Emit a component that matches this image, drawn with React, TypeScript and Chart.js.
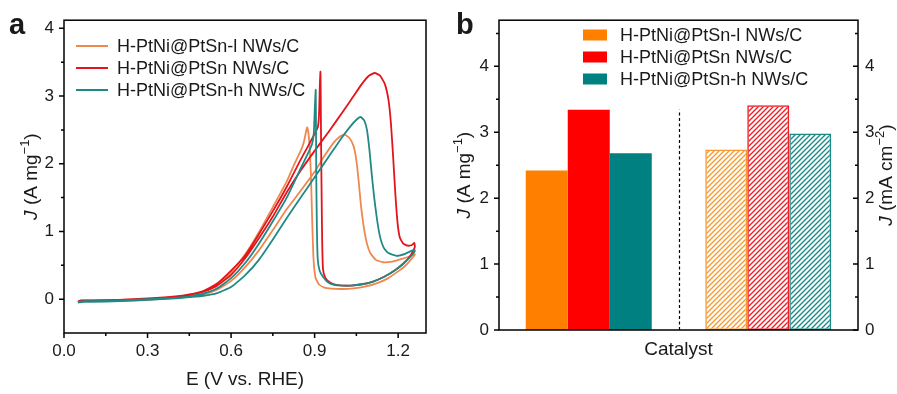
import React, { useEffect, useRef } from 'react';
import { Chart, registerables } from 'chart.js';

Chart.register(...registerables);

const FONT = "'Liberation Sans', Arial, Helvetica, sans-serif";
const INK = '#1a1a1a';

type Pt = [number, number];

// ---------- Panel a : CV curves (E in V vs. RHE, J in A mg-1) ----------
const seriesNames = ['H-PtNi@PtSn-l NWs/C', 'H-PtNi@PtSn NWs/C', 'H-PtNi@PtSn-h NWs/C'];
const lineColors = ['#F0874E', '#E3141C', '#1F8A85'];

const cvLowForward: Pt[] = [
  [0.05, -0.05], [0.06, -0.03], [0.08, -0.02], [0.1, -0.03], [0.2, -0.02], [0.3, -0.01], [0.4, 0.02],
  [0.45, 0.04], [0.5, 0.07], [0.55, 0.14], [0.6, 0.27], [0.65, 0.47], [0.7, 0.72], [0.75, 1.02],
  [0.8, 1.33], [0.85, 1.6], [0.9, 1.88], [0.936, 2.12], [0.97, 2.32], [0.99, 2.4], [1.008, 2.43],
  [1.025, 2.38], [1.04, 2.26], [1.05, 2.05], [1.058, 1.75], [1.066, 1.4], [1.076, 1.08], [1.088, 0.82],
  [1.1, 0.68], [1.12, 0.58], [1.146, 0.545], [1.18, 0.555], [1.21, 0.59], [1.24, 0.63], [1.258, 0.67],
];
const cvLowBackward: Pt[] = [
  [1.26, 0.66], [1.245, 0.58], [1.225, 0.49], [1.2, 0.41], [1.16, 0.3], [1.12, 0.23], [1.08, 0.185],
  [1.04, 0.16], [1.0, 0.15], [0.96, 0.155], [0.935, 0.17], [0.915, 0.22], [0.903, 0.32], [0.896, 0.6],
  [0.891, 1.2], [0.887, 1.8], [0.883, 2.2], [0.878, 2.45], [0.873, 2.54], [0.868, 2.45], [0.862, 2.33],
  [0.853, 2.22], [0.83, 2.02], [0.8, 1.74], [0.75, 1.36], [0.7, 0.99], [0.65, 0.66], [0.6, 0.4],
  [0.55, 0.21], [0.5, 0.11], [0.45, 0.06], [0.4, 0.03], [0.3, 0.0], [0.2, -0.01], [0.1, -0.02],
  [0.07, -0.02], [0.05, -0.03],
];

const cvMidForward: Pt[] = [
  [0.05, -0.04], [0.07, -0.02], [0.1, -0.03], [0.2, -0.02], [0.3, 0.0], [0.4, 0.03], [0.45, 0.06],
  [0.5, 0.11], [0.55, 0.2], [0.6, 0.36], [0.65, 0.6], [0.7, 0.9], [0.75, 1.22], [0.8, 1.58],
  [0.85, 1.9], [0.9, 2.19], [0.95, 2.47], [1.0, 2.76], [1.04, 3.0], [1.07, 3.18], [1.095, 3.3],
  [1.116, 3.34], [1.135, 3.3], [1.152, 3.18], [1.165, 2.95], [1.174, 2.6], [1.182, 2.1], [1.19, 1.55],
  [1.198, 1.12], [1.206, 0.91], [1.218, 0.82], [1.235, 0.79], [1.25, 0.8], [1.258, 0.83],
];
const cvMidBackward: Pt[] = [
  [1.26, 0.77], [1.245, 0.65], [1.22, 0.53], [1.19, 0.43], [1.15, 0.33], [1.11, 0.26], [1.07, 0.22],
  [1.03, 0.2], [1.0, 0.2], [0.97, 0.22], [0.95, 0.26], [0.937, 0.33], [0.93, 0.45], [0.927, 0.9],
  [0.925, 1.6], [0.923, 2.4], [0.922, 3.0], [0.921, 3.36], [0.919, 3.2], [0.916, 2.75], [0.912, 2.55],
  [0.9, 2.44], [0.85, 2.06], [0.8, 1.66], [0.75, 1.3], [0.7, 0.96], [0.65, 0.64], [0.6, 0.42],
  [0.55, 0.23], [0.5, 0.12], [0.45, 0.07], [0.4, 0.04], [0.3, 0.01], [0.2, -0.01], [0.1, -0.02],
  [0.06, -0.02], [0.05, -0.04],
];

const cvHighForward: Pt[] = [
  [0.05, -0.05], [0.07, -0.04], [0.1, -0.04], [0.2, -0.03], [0.3, -0.01], [0.4, 0.01], [0.45, 0.03],
  [0.5, 0.05], [0.55, 0.09], [0.6, 0.18], [0.65, 0.35], [0.7, 0.58], [0.75, 0.88], [0.8, 1.2],
  [0.85, 1.5], [0.9, 1.8], [0.95, 2.1], [1.0, 2.4], [1.03, 2.56], [1.05, 2.65], [1.065, 2.69],
  [1.078, 2.64], [1.088, 2.5], [1.097, 2.2], [1.105, 1.85], [1.114, 1.5], [1.124, 1.18], [1.135, 0.92],
  [1.148, 0.76], [1.165, 0.68], [1.194, 0.64], [1.225, 0.67], [1.258, 0.73],
];
const cvHighBackward: Pt[] = [
  [1.26, 0.71], [1.245, 0.63], [1.22, 0.53], [1.19, 0.43], [1.15, 0.33], [1.11, 0.26], [1.07, 0.22],
  [1.03, 0.2], [1.0, 0.2], [0.97, 0.21], [0.948, 0.25], [0.932, 0.32], [0.918, 0.42], [0.911, 0.6],
  [0.908, 1.1], [0.906, 1.8], [0.905, 2.5], [0.904, 3.09], [0.901, 2.85], [0.897, 2.45], [0.89, 2.28],
  [0.87, 2.1], [0.85, 1.93], [0.8, 1.5], [0.75, 1.15], [0.7, 0.82], [0.65, 0.53], [0.6, 0.31],
  [0.55, 0.16], [0.5, 0.08], [0.45, 0.04], [0.4, 0.02], [0.3, 0.0], [0.2, -0.02], [0.1, -0.03],
  [0.07, -0.03], [0.05, -0.05],
];

const cvLoops: Pt[][] = [
  [...cvLowForward, ...cvLowBackward],
  [...cvMidForward, ...cvMidBackward],
  [...cvHighForward, ...cvHighBackward],
];

const xTicksA = [0, 0.3, 0.6, 0.9, 1.2];
const xMinorA = [0.15, 0.45, 0.75, 1.05];
const yTicksA = [0, 1, 2, 3, 4];
const yMinorA = [0.5, 1.5, 2.5, 3.5];

// ---------- Panel b : activities ----------
const barColors = ['#FF8000', '#FF0000', '#008080'];
const hatchColors = ['#F59A30', '#EE1C24', '#178A86'];
const barCategories = ['Mass activity', 'Specific activity'];
const massActivity = [2.42, 3.34, 2.68]; // A mg-1 (left axis)
const specificActivity = [2.74, 3.41, 2.98]; // mA cm-2 (right axis)
const yTicksB = [0, 1, 2, 3, 4];
const yMinorB = [0.5, 1.5, 2.5, 3.5, 4.5];

// ---------- helpers ----------
type Part = { t: string; italic?: boolean; sup?: boolean };

function drawRich(ctx: CanvasRenderingContext2D, parts: Part[], cx: number, cy: number, size: number, rotate: boolean) {
  ctx.save();
  ctx.translate(cx, cy);
  if (rotate) ctx.rotate(-Math.PI / 2);
  const fontFor = (p: Part) => `${p.italic ? 'italic ' : ''}${p.sup ? Math.round(size * 0.66) : size}px ${FONT}`;
  let total = 0;
  for (const p of parts) {
    ctx.font = fontFor(p);
    total += ctx.measureText(p.t).width;
  }
  let x = -total / 2;
  ctx.textBaseline = 'middle';
  ctx.textAlign = 'left';
  ctx.fillStyle = INK;
  for (const p of parts) {
    ctx.font = fontFor(p);
    ctx.fillText(p.t, x, p.sup ? -size * 0.36 : 0);
    x += ctx.measureText(p.t).width;
  }
  ctx.restore();
}

function marks(ctx: CanvasRenderingContext2D, scale: any, values: number[], len: number, side: 'bottom' | 'left' | 'rightIn', area: any) {
  ctx.beginPath();
  for (const v of values) {
    const p = scale.getPixelForValue(v);
    if (side === 'bottom') {
      ctx.moveTo(p, area.bottom);
      ctx.lineTo(p, area.bottom + len);
    } else if (side === 'left') {
      ctx.moveTo(area.left, p);
      ctx.lineTo(area.left - len, p);
    } else {
      ctx.moveTo(area.right, p);
      ctx.lineTo(area.right - len, p);
    }
  }
  ctx.stroke();
}

function makeHatch(color: string): CanvasPattern {
  const s = 5;
  const c = document.createElement('canvas');
  c.width = s;
  c.height = s;
  const g = c.getContext('2d')!;
  g.strokeStyle = color;
  g.lineWidth = 1.35;
  g.beginPath();
  g.moveTo(0, s);
  g.lineTo(s, 0);
  g.moveTo(-1, 1);
  g.lineTo(1, -1);
  g.moveTo(s - 1, s + 1);
  g.lineTo(s + 1, s - 1);
  g.stroke();
  return g.createPattern(c, 'repeat')!;
}

const tickFont = { family: FONT, size: 17 };
const TITLE = 19;
const LEG = 18;

const decorA = {
  id: 'decorA',
  afterDraw(chart: any) {
    const { ctx, chartArea: area, scales } = chart;
    ctx.save();
    ctx.strokeStyle = '#000';
    ctx.lineWidth = 1.5;
    ctx.strokeRect(area.left, area.top, area.right - area.left, area.bottom - area.top);
    marks(ctx, scales.x, xTicksA, 5, 'bottom', area);
    marks(ctx, scales.x, xMinorA, 3, 'bottom', area);
    marks(ctx, scales.y, yTicksA, 5, 'left', area);
    marks(ctx, scales.y, yMinorA, 3, 'left', area);
    // legend
    ctx.lineWidth = 2;
    ctx.font = `${LEG}px ${FONT}`;
    ctx.textBaseline = 'middle';
    ctx.textAlign = 'left';
    seriesNames.forEach((name, i) => {
      const y = 46 + i * 22;
      ctx.strokeStyle = lineColors[i];
      ctx.beginPath();
      ctx.moveTo(76, y);
      ctx.lineTo(108, y);
      ctx.stroke();
      ctx.fillStyle = INK;
      ctx.fillText(name, 117, y + 1);
    });
    // titles
    drawRich(ctx, [{ t: 'E (V vs. RHE)' }], (area.left + area.right) / 2, 380, TITLE, false);
    drawRich(ctx, [{ t: 'J', italic: true }, { t: ' (A mg' }, { t: '−1', sup: true }, { t: ')' }], 32, (area.top + area.bottom) / 2, TITLE, true);
    ctx.fillStyle = INK;
    ctx.font = `bold 29px ${FONT}`;
    ctx.textBaseline = 'alphabetic';
    ctx.fillText('a', 9, 34);
    ctx.restore();
  },
};

const decorB = {
  id: 'decorB',
  afterDatasetsDraw(chart: any) {
    const { ctx, chartArea: area, scales } = chart;
    ctx.save();
    const xDiv = scales.x.getPixelForValue(0.5);
    const yTop = scales.y.getPixelForValue(Math.max(...massActivity));
    ctx.strokeStyle = '#000';
    ctx.lineWidth = 1.2;
    ctx.setLineDash([3, 2.5]);
    ctx.beginPath();
    ctx.moveTo(Math.round(xDiv) + 0.5, area.bottom);
    ctx.lineTo(Math.round(xDiv) + 0.5, yTop);
    ctx.stroke();
    ctx.restore();
  },
  afterDraw(chart: any) {
    const { ctx, chartArea: area, scales } = chart;
    ctx.save();
    ctx.strokeStyle = '#000';
    ctx.lineWidth = 1.5;
    ctx.strokeRect(area.left, area.top, area.right - area.left, area.bottom - area.top);
    marks(ctx, scales.y, yTicksB, 5, 'left', area);
    marks(ctx, scales.y, yMinorB, 3, 'left', area);
    marks(ctx, scales.y2, yTicksB, 5, 'rightIn', area);
    marks(ctx, scales.y2, yMinorB, 3, 'rightIn', area);
    // legend
    ctx.font = `${LEG}px ${FONT}`;
    ctx.textBaseline = 'middle';
    ctx.textAlign = 'left';
    seriesNames.forEach((name, i) => {
      const y = 35 + i * 22;
      ctx.fillStyle = barColors[i];
      ctx.fillRect(133, y - 5.5, 24, 11);
      ctx.fillStyle = INK;
      ctx.fillText(name, 170, y + 1);
    });
    drawRich(ctx, [{ t: 'Catalyst' }], (area.left + area.right) / 2, 350, TITLE, false);
    drawRich(ctx, [{ t: 'J', italic: true }, { t: ' (A mg' }, { t: '−1', sup: true }, { t: ')' }], 15, (area.top + area.bottom) / 2, TITLE, true);
    drawRich(ctx, [{ t: 'J', italic: true }, { t: ' (mA cm' }, { t: '−2', sup: true }, { t: ')' }], 437, (area.top + area.bottom) / 2, TITLE, true);
    ctx.fillStyle = INK;
    ctx.font = `bold 29px ${FONT}`;
    ctx.textBaseline = 'alphabetic';
    ctx.fillText('b', 6, 34);
    ctx.restore();
  },
};

export default function App() {
  const refA = useRef<HTMLCanvasElement>(null);
  const refB = useRef<HTMLCanvasElement>(null);

  useEffect(() => {
    Chart.defaults.font.family = FONT;
    Chart.defaults.color = INK;

    const chartA = new Chart(refA.current!, {
      type: 'scatter',
      data: {
        datasets: cvLoops.map((loop, i) => ({
          label: seriesNames[i],
          data: loop.map(([x, y]) => ({ x, y })),
          showLine: true,
          borderColor: lineColors[i],
          backgroundColor: lineColors[i],
          borderWidth: 1.8,
          pointRadius: 0,
          tension: 0.15,
          fill: false,
          order: 3 - i,
        })),
      },
      options: {
        responsive: false,
        animation: false,
        events: [],
        layout: { padding: { top: 17, right: 24, left: 0, bottom: 0 } },
        plugins: { legend: { display: false }, tooltip: { enabled: false } },
        scales: {
          x: {
            type: 'linear',
            min: 0,
            max: 1.3,
            grid: { display: false, drawTicks: false },
            border: { display: false },
            ticks: { padding: 8, font: tickFont, color: INK, callback: (v: any) => Number(v).toFixed(1) },
            afterBuildTicks: (s: any) => { s.ticks = xTicksA.map((v) => ({ value: v })); },
            afterFit: (s: any) => { s.height = 61; },
          },
          y: {
            type: 'linear',
            min: -0.5,
            max: 4.12,
            grid: { display: false, drawTicks: false },
            border: { display: false },
            ticks: { padding: 10, font: tickFont, color: INK, callback: (v: any) => String(v) },
            afterBuildTicks: (s: any) => { s.ticks = yTicksA.map((v) => ({ value: v })); },
            afterFit: (s: any) => { s.width = 64; },
          },
        },
      } as any,
      plugins: [decorA],
    });

    const hatches = hatchColors.map((c) => makeHatch(c));
    const chartB = new Chart(refB.current!, {
      type: 'bar',
      data: {
        labels: barCategories,
        datasets: [
          ...massActivity.map((v, i) => ({
            label: seriesNames[i],
            data: [v, null],
            backgroundColor: barColors[i],
            borderWidth: 0,
            yAxisID: 'y',
          })),
          ...specificActivity.map((v, i) => ({
            label: seriesNames[i],
            data: [null, v],
            backgroundColor: hatches[i],
            borderColor: hatchColors[i],
            borderWidth: 1.5,
            borderSkipped: false,
            yAxisID: 'y2',
          })),
        ],
      },
      options: {
        responsive: false,
        animation: false,
        events: [],
        datasets: { bar: { categoryPercentage: 0.702, barPercentage: 1, skipNull: true } },
        layout: { padding: { top: 17, right: 0, left: 0, bottom: 0 } },
        plugins: { legend: { display: false }, tooltip: { enabled: false } },
        scales: {
          x: {
            grid: { display: false, drawTicks: false },
            border: { display: false },
            ticks: { display: false },
            afterFit: (s: any) => { s.height = 64; },
          },
          y: {
            position: 'left',
            min: 0,
            max: 4.7,
            grid: { display: false, drawTicks: false },
            border: { display: false },
            ticks: { padding: 10, font: tickFont, color: INK },
            afterBuildTicks: (s: any) => { s.ticks = yTicksB.map((v) => ({ value: v })); },
            afterFit: (s: any) => { s.width = 49; },
          },
          y2: {
            position: 'right',
            min: 0,
            max: 4.7,
            grid: { display: false, drawTicks: false },
            border: { display: false },
            ticks: { padding: 7, font: tickFont, color: INK },
            afterBuildTicks: (s: any) => { s.ticks = yTicksB.map((v) => ({ value: v })); },
            afterFit: (s: any) => { s.width = 39; },
          },
        },
      } as any,
      plugins: [decorB],
    });

    return () => {
      chartA.destroy();
      chartB.destroy();
    };
  }, []);

  return (
    <div style={{ position: 'fixed', left: 0, top: 0, width: 897, height: 394, background: '#fff', overflow: 'hidden' }}>
      <canvas ref={refA} width={450} height={394} style={{ position: 'absolute', left: 0, top: 0 }} />
      <canvas ref={refB} width={447} height={394} style={{ position: 'absolute', left: 450, top: 0 }} />
    </div>
  );
}
